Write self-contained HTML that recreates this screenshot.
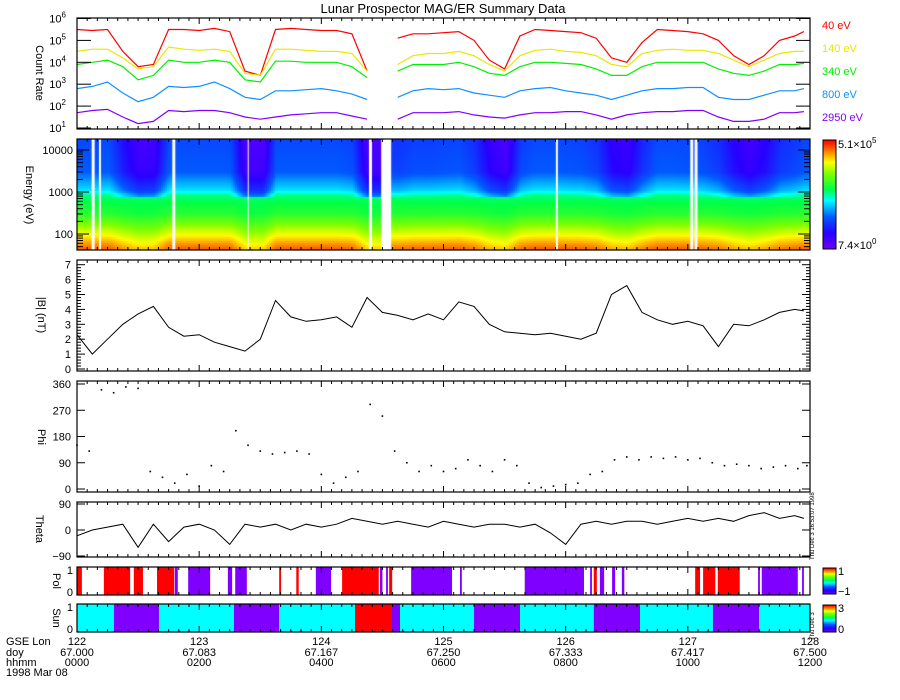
<!DOCTYPE html>
<html><head><meta charset="utf-8"><style>
html,body{margin:0;padding:0;background:#fff;width:900px;height:700px;overflow:hidden}
svg{position:absolute;left:0;top:0}
canvas{position:absolute}
text{font-family:"Liberation Sans",sans-serif;font-size:11px;fill:#000}
</style></head><body>
<canvas id="spec" width="733" height="111" style="left:77px;top:139px"></canvas>
<svg id="chart" width="900" height="700"></svg>
<script>
// ---- data (time axis: hours from 0000 to 1200, step 0.25h) ----
const hours = [0,0.25,0.5,0.75,1,1.25,1.5,1.75,2,2.25,2.5,2.75,3,3.25,3.5,3.75,4,4.25,4.5,4.75,5,5.25,5.5,5.75,6,6.25,6.5,6.75,7,7.25,7.5,7.75,8,8.25,8.5,8.75,9,9.25,9.5,9.75,10,10.25,10.5,10.75,11,11.25,11.5,11.75,11.9];
const rate40   = [5.5,5.45,5.5,4.5,3.8,3.9,5.5,5.5,5.45,5.55,5.4,3.6,3.4,5.5,5.55,5.5,5.45,5.45,5.3,3.6,null,5.1,5.3,5.3,5.35,5.4,5.0,4.1,3.7,5.2,5.5,5.45,5.4,5.35,5.1,4.2,4.0,4.9,5.5,5.45,5.4,5.3,5.0,4.3,3.9,4.3,5.0,5.2,5.4];
const rate140  = [4.5,4.6,4.6,4.2,3.7,3.8,4.7,4.6,4.55,4.6,4.5,3.5,3.4,4.6,4.6,4.55,4.5,4.5,4.4,3.6,null,3.9,4.3,4.4,4.4,4.5,4.3,3.9,3.6,4.3,4.55,4.6,4.5,4.45,4.3,3.9,3.8,4.4,4.55,4.6,4.55,4.55,4.4,4.1,3.8,4.1,4.4,4.5,4.5];
const rate340  = [3.9,4.0,4.1,3.8,3.2,3.4,4.1,4.0,4.0,4.1,4.0,3.2,3.1,4.05,4.05,4.0,4.0,4.0,3.8,3.3,null,3.6,3.9,3.9,3.9,4.0,3.8,3.5,3.4,3.8,4.0,4.0,3.95,3.9,3.7,3.4,3.4,3.8,4.0,4.0,4.0,4.0,3.7,3.5,3.4,3.6,3.9,3.9,3.95];
const rate800  = [2.8,2.9,3.1,2.6,2.2,2.4,2.9,2.85,2.9,3.1,2.8,2.4,2.3,2.7,2.7,2.75,2.8,2.7,2.55,2.3,null,2.4,2.7,2.8,2.75,2.8,2.6,2.5,2.4,2.7,2.8,2.85,2.7,2.6,2.5,2.3,2.5,2.7,2.8,2.8,2.85,2.85,2.4,2.3,2.3,2.5,2.7,2.7,2.8];
const rate2950 = [1.7,1.8,1.85,1.5,1.2,1.3,1.8,1.75,1.8,1.8,1.7,1.5,1.4,1.5,1.6,1.65,1.7,1.7,1.55,1.4,null,1.4,1.7,1.7,1.7,1.75,1.6,1.5,1.45,1.6,1.7,1.7,1.75,1.75,1.6,1.4,1.6,1.7,1.75,1.75,1.8,1.8,1.5,1.3,1.3,1.4,1.7,1.7,1.75];
const channelLabels = ["40 eV","140 eV","340 eV","800 eV","2950 eV"];
const bMag = [2.3,1.0,2.0,3.0,3.7,4.2,2.8,2.2,2.3,1.8,1.5,1.2,2.0,4.6,3.5,3.2,3.3,3.5,2.8,4.8,3.8,3.6,3.3,3.7,3.3,4.5,4.2,3.0,2.5,2.4,2.3,2.4,2.2,2.0,2.4,5.0,5.6,3.8,3.3,3.0,3.2,2.9,1.5,3.0,2.9,3.3,3.8,4.0,3.9];
const theta = [-20,0,10,20,-60,20,-40,10,20,0,-50,20,10,20,0,20,10,20,40,30,20,30,20,10,30,20,10,20,20,10,20,-10,-50,20,30,20,30,30,20,30,40,30,40,30,50,60,40,50,40];
const phiHours = [0,0.2,0.4,0.6,0.8,1,1.2,1.4,1.6,1.8,2,2.2,2.4,2.6,2.8,3,3.2,3.4,3.6,3.8,4,4.2,4.4,4.6,4.8,5,5.2,5.4,5.6,5.8,6,6.2,6.4,6.6,6.8,7,7.2,7.4,7.6,7.8,8,8.2,8.4,8.6,8.8,9,9.2,9.4,9.6,9.8,10,10.2,10.4,10.6,10.8,11,11.2,11.4,11.6,11.8,11.95];
const phi = [150,130,340,330,350,345,60,40,20,50,10,80,60,200,150,130,120,125,130,120,50,20,40,60,290,250,130,90,60,80,60,70,100,80,60,100,80,20,5,10,15,20,50,60,100,110,100,110,105,110,100,105,90,80,85,80,70,75,80,70,80];
const polStart = [0,0.44,0.93,1.31,1.6,1.82,2.47,2.59,3.31,3.59,3.91,4.34,4.96,5.06,5.11,5.47,6.27,7.33,8.4,8.46,8.56,8.76,8.92,10.12,10.25,10.49,11.15,11.21,11.87];
const polEnd   = [0.08,0.87,1.08,1.59,1.65,2.18,2.54,2.78,3.34,3.63,4.16,4.94,5.0,5.09,5.16,6.14,6.3,8.3,8.43,8.51,8.63,8.81,8.96,10.2,10.45,10.85,11.18,11.8,11.9];
const polValue = [1,1,1,1,-1,-1,-1,-1,1,1,-1,1,-1,-1,1,-1,-1,-1,-1,1,-1,-1,-1,1,1,1,-1,-1,-1];
const sunStart = [0,0.606,1.342,2.57,3.307,4.551,5.157,5.288,6.5,7.253,8.46,9.217,10.41,11.166];
const sunEnd   = [0.606,1.342,2.57,3.307,4.551,5.157,5.288,6.5,7.253,8.46,9.217,10.41,11.166,12];
const sunValue = [1,0,1,0,1,3,0,1,0,1,0,1,0,1];
const specGaps = [0.24,0.36,1.56,2.795,4.78,4.98,7.84,10.04,10.11];
const specGapW = [3,2,3,1,3,10,2,3,3];
const xTickLon = ["122","123","124","125","126","127","128"];
const xTickDoy = ["67.000","67.083","67.167","67.250","67.333","67.417","67.500"];
const xTickHhmm = ["0000","0200","0400","0600","0800","1000","1200"];

// ---- axes ----
const X0=77, X1=810;
const xs = h => X0 + h/12*(X1-X0);
const yCount = l => 128 - (l-1)*21.9;
const yEnergy = le => 192 - (le-3)*42;
const yB = b => 369 - b*14.9;
const yPhi = p => 489 - p*105/360;
const yTheta = t => 530 - t*26/90;
const svg = document.getElementById('chart');
const NS = 'http://www.w3.org/2000/svg';
function mk(tag, attrs, parent){const e=document.createElementNS(NS,tag);for(const k in attrs)e.setAttribute(k,attrs[k]);(parent||svg).appendChild(e);return e;}
function txt(x,y,s,anchor,fill,size,rot){const t=mk('text',{x:x,y:y,'text-anchor':anchor||'start'});if(fill)t.style.fill=fill;if(size)t.style.fontSize=size+'px';if(rot)t.setAttribute('transform','rotate('+rot+' '+x+' '+y+')');t.textContent=s;return t;}

// ---- spectrogram canvas ----
const cv=document.getElementById('spec'), cx=cv.getContext('2d');
const cstops=[[0,[112,0,255]],[0.15,[40,0,255]],[0.3,[0,90,255]],[0.45,[0,255,255]],[0.55,[0,255,70]],[0.7,[128,255,0]],[0.8,[255,255,0]],[0.9,[255,128,0]],[1,[255,0,0]]];
function cmap(v){v=Math.max(0,Math.min(1,v));for(let i=1;i<cstops.length;i++){if(v<=cstops[i][0]){const a=cstops[i-1],b=cstops[i],f=(v-a[0])/(b[0]-a[0]);return 'rgb('+a[1].map((c,j)=>Math.round(c+(b[1][j]-c)*f)).join(',')+')';}}return 'rgb(255,0,0)';}
const leK=[1.62,2.0,2.5,2.95,3.05,3.5,4.26], vK=[0.95,0.8,0.6,0.52,0.43,0.3,0.27];
function interp(xa,ya,x){for(let i=1;i<xa.length;i++){if(x<=xa[i]){const f=(x-xa[i-1])/(xa[i]-xa[i-1]);return ya[i-1]+(ya[i]-ya[i-1])*f;}}return ya[ya.length-1];}
function redAt(h){let i=Math.min(hours.length-2,Math.floor(h/0.25));let a=rate40[i],b=rate40[i+1];if(a==null)a=b;if(b==null)b=a;const f=(h-hours[i])/(hours[i+1]-hours[i]);return a+(b-a)*Math.max(0,Math.min(1,f));}
for(let px=0;px<733;px+=2){const h=px/733*12;const d=Math.max(0,Math.min(1,(5.45-redAt(h))/1.8));
 for(let py=0;py<111;py+=2){const le=3-(py+139-192)/42;let v=interp(leK,vK,le);v-= le>2.9? d*0.2 : d*0.1*(1-(le-1.6)/1.3); cx.fillStyle=cmap(v);cx.fillRect(px,py,2,2);}}
cx.fillStyle='#fff';
for(let i=0;i<specGaps.length;i++){cx.fillRect(xs(specGaps[i])-X0,0,specGapW[i],111);}

// ---- frames ----
const panels=[['count-rate-panel',18,129],['spectrogram-panel',139,250],['b-magnitude-panel',260,371],['phi-panel',381,492],['theta-panel',502,557],['pol-panel',567,595],['sun-panel',604,632]];
const ti=txt(443,13,'Lunar Prospector MAG/ER Summary Data','middle',null,13);



// ---- count rate lines ----
const series=[rate40,rate140,rate340,rate800,rate2950];
const scol=['#ff0000','#e8e800','#00f000','#1090ff','#8000ff'];
const sname=['series-40ev','series-140ev','series-340ev','series-800ev','series-2950ev'];
for(let s=0;s<series.length;s++){let d='',pen=false;
 for(let i=0;i<hours.length;i++){const v=series[s][i];if(v==null){pen=false;continue;}d+=(pen?'L':'M')+xs(hours[i]).toFixed(1)+' '+yCount(v).toFixed(1);pen=true;}
 const p=mk('path',{d:d,fill:'none',stroke:scol[s],'stroke-width':1.2});
 
 
 const lt=txt(822,[29,52,75,98,121][s],channelLabels[s],'start',scol[s],11);
 
 
}
for(let e=1;e<=6;e++){const y=yCount(e);mk('line',{x1:X0,x2:X0+14,y1:y,y2:y,stroke:'#000'});mk('line',{x1:X1-14,x2:X1,y1:y,y2:y,stroke:'#000'});
 const t=txt(66,y+4,'10','end');
 const sp=document.createElementNS(NS,'tspan');sp.setAttribute('dy','-5');sp.style.fontSize='8px';sp.textContent=e;t.appendChild(sp);}
txt(36,73,'Count Rate','middle',null,11,90);

// ---- energy ticks ----
[[4,'10000'],[3,'1000'],[2,'100']].forEach(a=>{const y=yEnergy(a[0]);txt(73,y+4,a[1],'end');mk('line',{x1:X0,x2:X0+12,y1:y,y2:y,stroke:'#000'});mk('line',{x1:X1-12,x2:X1,y1:y,y2:y,stroke:'#000'});});
for(let dec=1;dec<=4;dec++)for(let m=2;m<=9;m++){const le=dec+Math.log10(m);if(le<1.62||le>4.26)continue;const y=yEnergy(le);mk('line',{x1:X0,x2:X0+6,y1:y,y2:y,stroke:'#000'});mk('line',{x1:X1-6,x2:X1,y1:y,y2:y,stroke:'#000'});}
txt(26,195,'Energy (eV)','middle',null,11,90);

// ---- B magnitude ----
{let d='';for(let i=0;i<hours.length;i++)d+=(i?'L':'M')+xs(hours[i]).toFixed(1)+' '+yB(bMag[i]).toFixed(1);
 const p=mk('path',{d:d,fill:'none',stroke:'#000','stroke-width':1});
 
 }
for(let b=0;b<=7;b++){const y=yB(b);txt(71,y+4,String(b),'end');mk('line',{x1:X0,x2:X0+8,y1:y,y2:y,stroke:'#000'});mk('line',{x1:X1-8,x2:X1,y1:y,y2:y,stroke:'#000'});
 for(let k=1;k<5;k++){const y2=yB(b+k*0.2);if(b<7){mk('line',{x1:X0,x2:X0+4,y1:y2,y2:y2,stroke:'#000'});mk('line',{x1:X1-4,x2:X1,y1:y2,y2:y2,stroke:'#000'});}}}
txt(38,315,'|B| (nT)','middle',null,11,90);

// ---- phi scatter ----
for(let i=0;i<phiHours.length;i++){const c=mk('rect',{x:xs(phiHours[i])-0.8,y:yPhi(phi[i])-0.8,width:1.6,height:1.6,fill:'#000'});
 
 }
[0,90,180,270,360].forEach(p=>{const y=yPhi(p);txt(71,y+4,String(p),'end');mk('line',{x1:X0,x2:X0+8,y1:y,y2:y,stroke:'#000'});mk('line',{x1:X1-8,x2:X1,y1:y,y2:y,stroke:'#000'});});
txt(38,437,'Phi','middle',null,11,90);

// ---- theta ----
{let d='';for(let i=0;i<hours.length;i++)d+=(i?'L':'M')+xs(hours[i]).toFixed(1)+' '+yTheta(theta[i]).toFixed(1);
 const p=mk('path',{d:d,fill:'none',stroke:'#000','stroke-width':1});
 
 }
[[90,'90'],[0,'0'],[-90,'\u221290']].forEach(a=>{const y=yTheta(a[0]);txt(71,y+4,a[1],'end');mk('line',{x1:X0,x2:X0+8,y1:y,y2:y,stroke:'#000'});mk('line',{x1:X1-8,x2:X1,y1:y,y2:y,stroke:'#000'});});
txt(36,529,'Theta','middle',null,11,90);

// ---- pol & sun bars ----
const polCol={'1':'#ff0000','-1':'#8000ff','0':'#ffffff'};
for(let i=0;i<polStart.length;i++){const r=mk('rect',{x:xs(polStart[i]),y:567,width:Math.max(1,xs(polEnd[i])-xs(polStart[i])),height:28,fill:polCol[polValue[i]]});
 
 }
const sunCol={'0':'#8000ff','1':'#00ffff','3':'#ff0000'};
for(let i=0;i<sunStart.length;i++){const r=mk('rect',{x:xs(sunStart[i]),y:604,width:xs(sunEnd[i])-xs(sunStart[i]),height:28,fill:sunCol[sunValue[i]]});
 
 }
txt(73,574,'1','end');txt(73,596,'0','end');txt(73,611,'1','end');txt(73,633,'0','end');
txt(53,581,'Pol','middle',null,11,90);txt(53,618,'Sun','middle',null,11,90);

// ---- frames + x ticks ----
panels.forEach(p=>{const r=mk('rect',{x:X0,y:p[1],width:X1-X0,height:p[2]-p[1],fill:'none',stroke:'#000','stroke-width':1.2});
 
 
 for(let k=0;k<=72;k++){const x=xs(k/6);const L=k%12==0?6:3;mk('line',{x1:x,x2:x,y1:p[2],y2:p[2]-L,stroke:'#000'});mk('line',{x1:x,x2:x,y1:p[1],y2:p[1]+L,stroke:'#000'});}});

for(let i=0;i<7;i++){const x=xs(i*2);
 const a=txt(x,645,xTickLon[i],'middle');
 txt(x,656,xTickDoy[i],'middle');txt(x,666,xTickHhmm[i],'middle');}
txt(6,645,'GSE Lon');txt(6,656,'doy');txt(6,666,'hhmm');txt(6,676,'1998 Mar 08');

// ---- colorbars ----
function cbar(y,h,name){const g=mk('g',{});
 for(let k=0;k<h;k++){mk('rect',{x:823,y:y+k,width:13,height:1.2,fill:cmap(1-k/h)},g);}
 mk('rect',{x:823,y:y,width:13,height:h,fill:'none',stroke:'#000'},g);}
cbar(140,109,'spectrogram-colorbar');cbar(568,26,'pol-colorbar');cbar(605,27,'sun-colorbar');
{const t=txt(838,148,'5.1\u00d710');const s=document.createElementNS(NS,'tspan');s.setAttribute('dy','-5');s.style.fontSize='8px';s.textContent='5';t.appendChild(s);
 const t2=txt(838,249,'7.4\u00d710');const s2=document.createElementNS(NS,'tspan');s2.setAttribute('dy','-5');s2.style.fontSize='8px';s2.textContent='0';t2.appendChild(s2);}
txt(838,575,'1');txt(838,595,'\u22121');txt(838,612,'3');txt(838,633,'0');
txt(814,560,'Thu Dec 3 16:53:07 1998','start',null,6,-90);
txt(814,640,'Thu Dec 3','start',null,6,-90);
</script>
</body></html>
